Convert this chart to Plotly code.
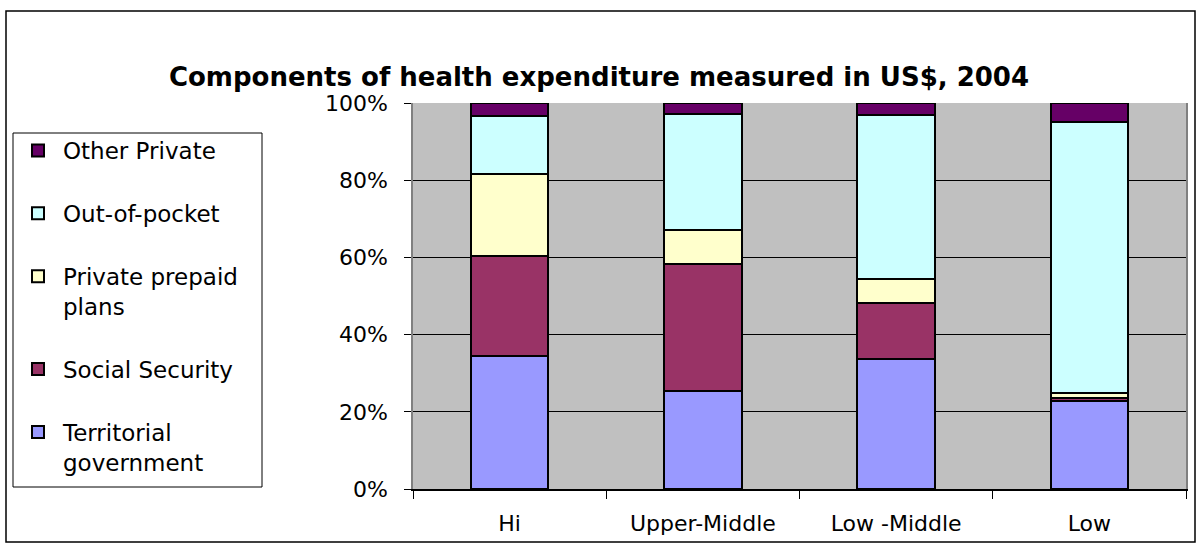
import plotly.graph_objects as go

# ---- data ----
categories = ["Hi", "Upper-Middle", "Low -Middle", "Low"]
territorial_government = [34.5, 25.5, 33.7, 22.7]
social_security = [25.8, 32.9, 14.4, 1.0]
private_prepaid = [21.4, 8.7, 6.2, 1.2]
out_of_pocket = [15.0, 30.1, 42.5, 70.2]
other_private = [3.3, 2.8, 3.2, 4.9]

series_names = ["Territorial<br>government", "Social Security",
                "Private prepaid<br>plans", "Out-of-pocket", "Other Private"]
series_values = [territorial_government, social_security, private_prepaid,
                 out_of_pocket, other_private]
series_colors = ["#9999FF", "#993366", "#FFFFCC", "#CCFFFF", "#660066"]

y_tick_values = [0, 20, 40, 60, 80, 100]
y_tick_labels = ["0%", "20%", "40%", "60%", "80%", "100%"]

title_text = "Components of health expenditure measured in US$, 2004"

# ---- layout geometry (page pixels) ----
W, H = 1198, 544
PL, PR, PT, PB = 413, 1186, 103, 489  # plot area
pw, ph = PR - PL, PB - PT


def px_x(x):
    return (x - PL) / pw


def px_y(y):
    return (PB - y) / ph


FONT = "DejaVu Sans"

fig = go.Figure()
n = len(series_names)
for i, (name, vals, col) in enumerate(zip(series_names, series_values, series_colors)):
    fig.add_trace(go.Bar(
        x=categories, y=vals, name=name, legendgroup=name,
        legendrank=n - i,
        marker=dict(color=col, line=dict(color="#000000", width=2)),
    ))

fig.update_layout(
    width=W, height=H,
    barmode="stack", bargap=0.6,
    margin=dict(l=PL, r=W - PR, t=PT, b=H - PB, autoexpand=False),
    paper_bgcolor="#FFFFFF", plot_bgcolor="#C0C0C0",
    font=dict(family=FONT, size=22, color="#000000"),
    title=dict(text="<b>" + title_text + "</b>", x=0.5, xref="container",
               xanchor="center", y=1 - 77 / H, yref="container",
               yanchor="middle",
               font=dict(family=FONT, size=26, color="#000000")),
    legend=dict(x=px_x(13), y=px_y(129), xanchor="left", yanchor="top",
                bgcolor="rgba(0,0,0,0)", borderwidth=0,
                traceorder="grouped", tracegroupgap=30,
                valign="top", itemwidth=40,
                font=dict(family=FONT, size=23, color="#000000")),
    showlegend=True,
    shapes=[
        # outer chart frame
        dict(type="rect", xref="paper", yref="paper", layer="below",
             x0=px_x(6), x1=px_x(1195), y0=px_y(542), y1=px_y(11),
             line=dict(color="#000000", width=1.5), fillcolor="rgba(0,0,0,0)"),
        # legend box
        dict(type="rect", xref="paper", yref="paper",
             x0=px_x(13), x1=px_x(262), y0=px_y(487), y1=px_y(133),
             line=dict(color="#000000", width=1), fillcolor="rgba(0,0,0,0)"),
    ],
)

fig.update_yaxes(
    range=[0, 100], tickvals=y_tick_values, ticktext=y_tick_labels,
    showgrid=True, gridcolor="#000000", gridwidth=1, zeroline=False,
    showline=True, linecolor="#808080", linewidth=1.5, mirror=True,
    ticks="outside", ticklen=7, tickcolor="#000000", tickwidth=1,
    ticklabelstandoff=12,
    tickfont=dict(family=FONT, size=22, color="#000000"),
)
fig.update_xaxes(
    showline=True, linecolor="#000000", linewidth=1.5, mirror=False,
    ticks="outside", tickson="boundaries", ticklen=8, tickcolor="#000000",
    ticklabelstandoff=14,
    tickfont=dict(family=FONT, size=22, color="#000000"),
)

# remove the browser's default 8px page margin so the figure sits at (0, 0)
fig.write_html("out.html", config={"displayModeBar": False},
               post_script="document.body.style.margin='0';")
